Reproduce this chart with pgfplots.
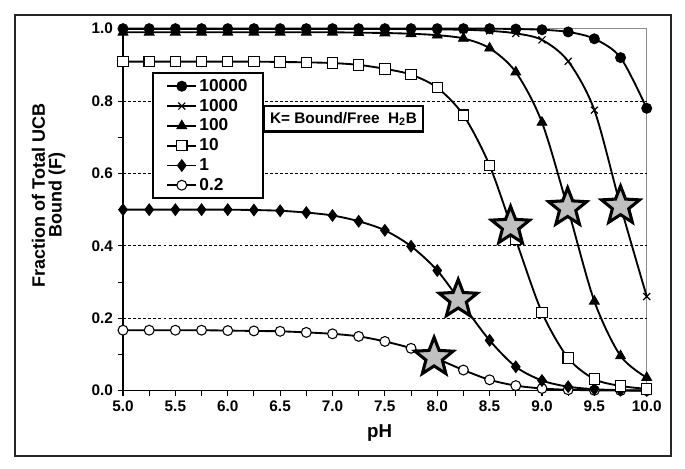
\documentclass[border=0pt]{standalone}
\usepackage{fontspec}
\setmainfont{Liberation Sans}
\usepackage{pgfplots}
\usepackage{pgfplotstable}
\pgfplotsset{compat=1.18}

% five point star used for the half-bound points
\pgfdeclareplotmark{bigstar}{%
  \pgfpathmoveto{\pgfpointpolar{90}{\pgfplotmarksize}}%
  \pgfpathlineto{\pgfpointpolar{126}{0.43\pgfplotmarksize}}%
  \pgfpathlineto{\pgfpointpolar{162}{\pgfplotmarksize}}%
  \pgfpathlineto{\pgfpointpolar{198}{0.43\pgfplotmarksize}}%
  \pgfpathlineto{\pgfpointpolar{234}{\pgfplotmarksize}}%
  \pgfpathlineto{\pgfpointpolar{270}{0.43\pgfplotmarksize}}%
  \pgfpathlineto{\pgfpointpolar{306}{\pgfplotmarksize}}%
  \pgfpathlineto{\pgfpointpolar{342}{0.43\pgfplotmarksize}}%
  \pgfpathlineto{\pgfpointpolar{18}{\pgfplotmarksize}}%
  \pgfpathlineto{\pgfpointpolar{54}{0.43\pgfplotmarksize}}%
  \pgfpathclose
  \pgfusepathqfillstroke
}

\definecolor{stargray}{RGB}{192,192,192}

\pgfplotstableread{
pH    k10000 k1000 k100  k10   k1     k02
5.00  1.000  0.999 0.990 0.909 0.500  0.167
5.25  1.000  0.999 0.990 0.909 0.500  0.167
5.50  1.000  0.999 0.990 0.909 0.500  0.167
5.75  1.000  0.999 0.990 0.909 0.500  0.167
6.00  1.000  0.999 0.990 0.909 0.500  0.166
6.25  1.000  0.999 0.990 0.909 0.499  0.165
6.50  1.000  0.999 0.990 0.908 0.497  0.164
6.75  1.000  0.999 0.990 0.907 0.492  0.161
7.00  1.000  0.999 0.990 0.905 0.484  0.157
7.25  1.000  0.999 0.989 0.900 0.468  0.150
7.50  1.000  0.999 0.988 0.889 0.443  0.136
7.75  1.000  0.999 0.986 0.873 0.399  0.117
8.00  1.000  0.998 0.982 0.837 0.332  0.088
8.25  1.000  0.997 0.973 0.761 0.235  0.057
8.50  1.000  0.994 0.946 0.622 0.139  0.030
8.75  0.999  0.987 0.880 0.417 0.066  0.014
9.00  0.997  0.969 0.741 0.216 0.028  0.006
9.25  0.991  0.910 0.500 0.090 0.011  0.0025
9.50  0.972  0.775 0.247 0.032 0.004  0.001
9.75  0.920  0.510 0.096 0.013 0.0015 0.0003
10.00 0.780  0.260 0.036 0.005 0.0005 0.0001
}\fdata

\pgfplotstableread{
pH     F
7.97   0.092
8.20   0.252
8.70   0.454
9.245  0.505
9.75   0.510
}\stars

\begin{document}
\begin{tikzpicture}
\useasboundingbox (-92.25pt,-58.7pt) rectangle (421.5pt,293pt);
\draw[line width=1.2pt, black!85] (-81pt,-49pt) rectangle (411pt,281.8pt);
\begin{axis}[
  at={(0pt,0pt)}, anchor=south west,
  scale only axis, width=392.8pt, height=271.5pt,
  xmin=5, xmax=10, ymin=0, ymax=1,
  clip=false,
  xtick={5,5.5,...,10}, ytick={0,0.2,0.4,0.6,0.8,1.0},
  minor x tick num=1, minor y tick num=1,
  tick align=outside, xtick pos=left, ytick pos=left,
  major tick length=4pt, minor tick length=4pt,
  tick style={black, line width=0.8pt},
  axis line style={black!45, line width=0.8pt},
  extra y ticks={0.2,0.4,0.6,0.8}, extra y tick labels={},
  extra y tick style={grid=major, major tick length=0pt,
    major grid style={black, line width=0.6pt, dash pattern=on 2.2pt off 1.6pt}},
  every tick label/.append style={font=\fontsize{11.5}{13}\selectfont\bfseries},
  xlabel={pH},
  xlabel style={at={(axis description cs:0.49,-0.117)}, anchor=center,
    font=\fontsize{14}{15}\selectfont\bfseries},
  ylabel={Fraction of Total UCB\\Bound (F)},
  ylabel style={at={(axis description cs:-0.142,0.54)}, anchor=center, align=center,
    font=\fontsize{13.5}{12.5}\selectfont\bfseries},
  legend style={at={(0.055,0.880)}, anchor=north west, draw=black, line width=1.6pt,
    font=\fontsize{13}{15}\selectfont\bfseries, inner xsep=10pt, inner ysep=3pt,
    row sep=1.3pt, nodes={inner sep=1.5pt}, cells={anchor=west}},
  legend image code/.code={\draw[mark repeat=2, mark phase=2, #1]
    plot coordinates {(0pt,0pt) (11pt,0pt) (22pt,0pt)};},
  reverse legend,
  every axis plot/.append style={black, line width=1.4pt, smooth},
  /pgf/number format/fixed, /pgf/number format/fixed zerofill,
  /pgf/number format/precision=1, /pgf/number format/assume math mode=true,
]
\draw[black, line width=1.1pt] (rel axis cs:0,1) -- (rel axis cs:0,0) -- (rel axis cs:1,0);

\addplot[mark=*, mark size=3.7pt, mark options={solid, fill=white, line width=0.8pt}]
  table[x=pH, y=k02] {\fdata};
\addplot[mark=diamond*, mark size=4.4pt, mark options={solid, fill=black, line width=0.6pt}]
  table[x=pH, y=k1] {\fdata};
\addplot[mark=square*, mark size=3.9pt, mark options={solid, fill=white, line width=0.8pt}]
  table[x=pH, y=k10] {\fdata};
\addplot[mark=triangle*, mark size=4.3pt, mark options={solid, fill=black, line width=0.6pt}]
  table[x=pH, y=k100] {\fdata};
\addplot[mark=x, mark size=3.7pt, mark options={solid, line width=0.9pt}]
  table[x=pH, y=k1000] {\fdata};
\addplot[mark=*, mark size=3.8pt, mark options={solid, fill=black, line width=0.6pt}]
  table[x=pH, y=k10000] {\fdata};
\legend{0.2,1,10,100,1000,10000}

\addplot[only marks, forget plot, mark=bigstar, mark size=15pt,
  mark options={solid, fill=stargray, draw=black, line width=2.3pt, line join=miter}]
  table[x=pH, y=F] {\stars};

\node[draw=black, line width=1.8pt, fill=white, minimum width=119pt, minimum height=19pt,
  font=\fontsize{11.5}{13}\selectfont\bfseries]
  at (axis description cs:0.421,0.751) {K= Bound/Free\ \ H\textsubscript{2}B};
\end{axis}
\end{tikzpicture}
\end{document}
